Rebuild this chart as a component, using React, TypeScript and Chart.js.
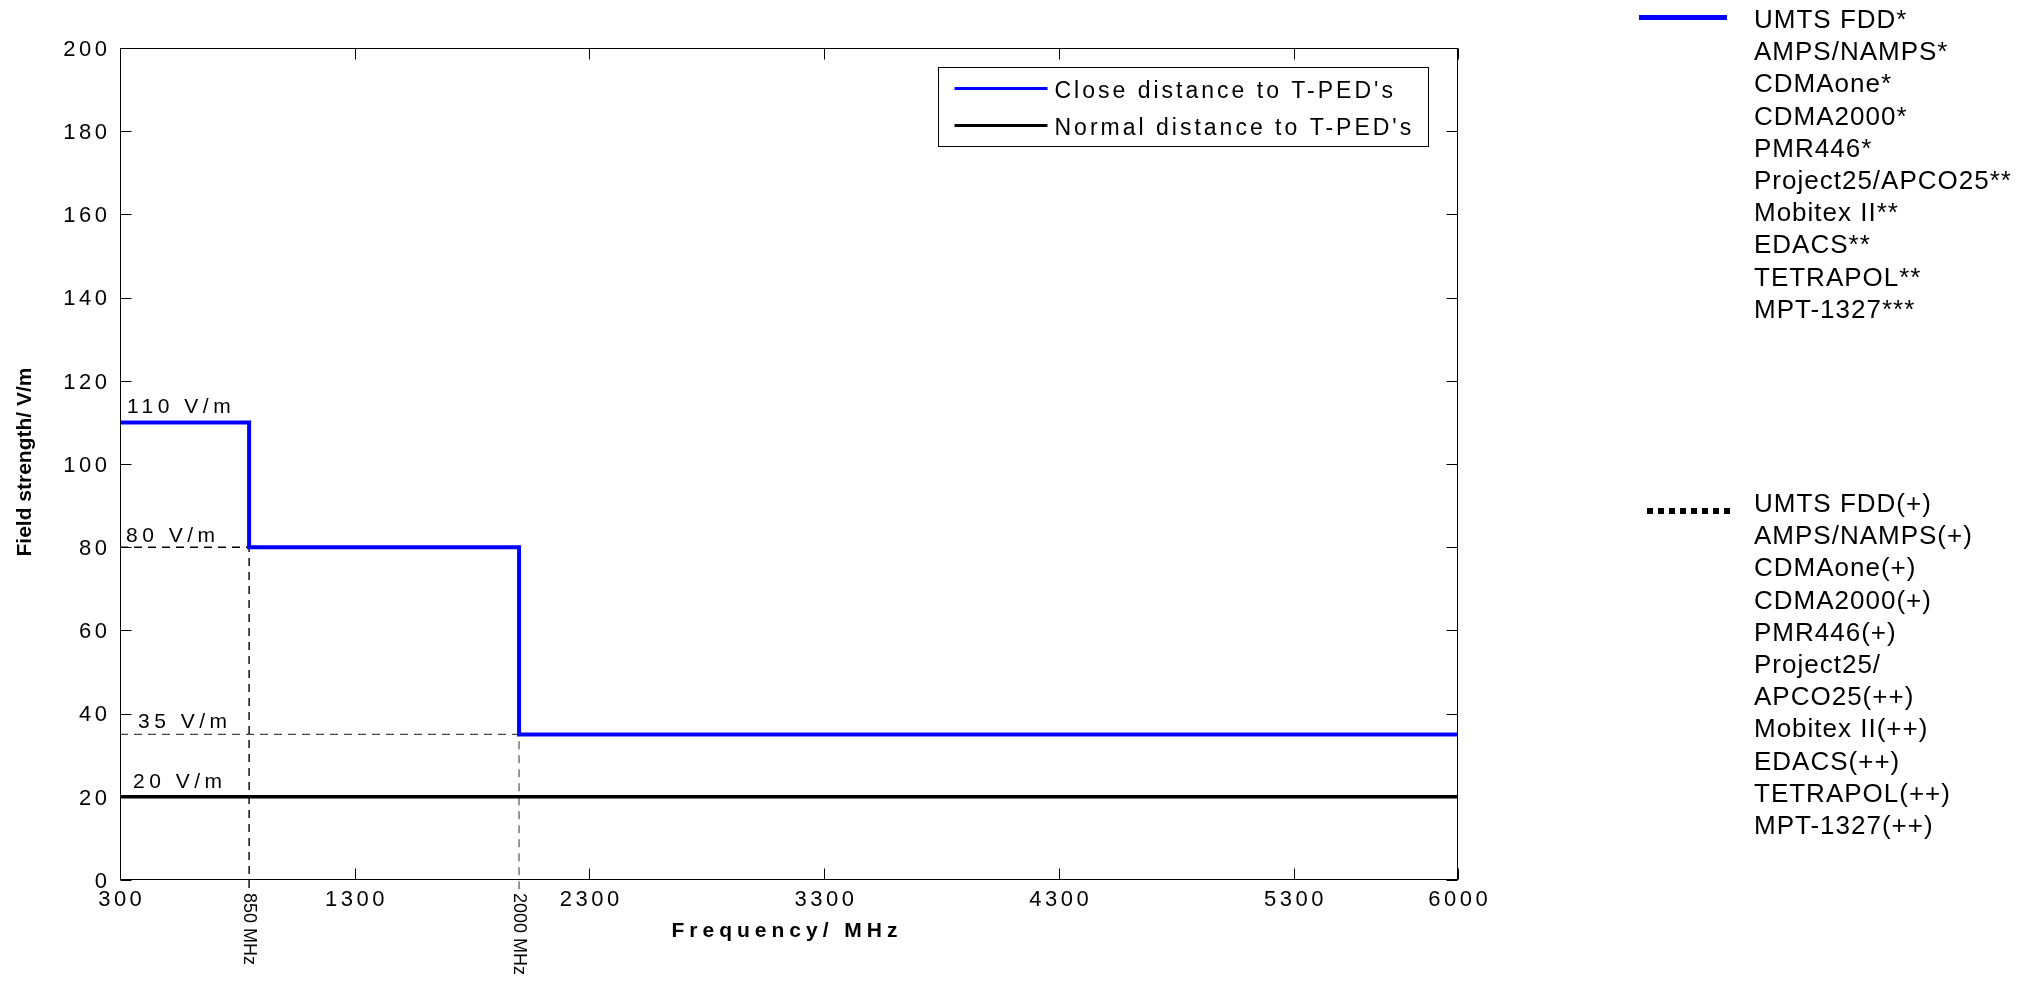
import React, { useEffect, useRef } from 'react';
import { Chart, registerables } from 'chart.js';

Chart.register(...registerables);

// ---------- data ----------
const closeFreq = [300, 850, 2000, 6000];
const closeField = [110, 80, 35, 35];
const normalFreq = [300, 6000];
const normalField = [20, 20];
const seriesLabels = ["Close distance to T-PED's", "Normal distance to T-PED's"];

const xTicks = [300, 1300, 2300, 3300, 4300, 5300, 6000];
const yTicks = [0, 20, 40, 60, 80, 100, 120, 140, 160, 180, 200];

const levelValues = [110, 80, 35, 20];
const levelLabels = ['110 V/m', '80 V/m', '35 V/m', '20 V/m'];

const bandEdges = [850, 2000];
const bandEdgeLevels = [80, 35];
const bandLabels = ['850 MHz', '2000 MHz'];
const guideFloor = -2.5;

const closeSystems = [
  'UMTS FDD*', 'AMPS/NAMPS*', 'CDMAone*', 'CDMA2000*', 'PMR446*',
  'Project25/APCO25**', 'Mobitex II**', 'EDACS**', 'TETRAPOL**', 'MPT-1327***',
];
const normalSystems = [
  'UMTS FDD(+)', 'AMPS/NAMPS(+)', 'CDMAone(+)', 'CDMA2000(+)', 'PMR446(+)',
  'Project25/', 'APCO25(++)', 'Mobitex II(++)', 'EDACS(++)', 'TETRAPOL(++)', 'MPT-1327(++)',
];

const FONT = '"Liberation Sans", Arial, Helvetica, sans-serif';
const BLUE = '#0000ff';

// layout nudges for the level labels (pixels)
const LEVEL_NUDGE = [
  { dx: 7, dy: 9 },
  { dx: 6, dy: 5 },
  { dx: 18, dy: 6 },
  { dx: 13, dy: 9 },
];

const decorPlugin = {
  id: 'decor',
  afterDraw(chart: any) {
    const { ctx, chartArea: a } = chart;
    const xs = chart.scales.x;
    const ys = chart.scales.y;
    ctx.save();
    ctx.strokeStyle = '#000';
    ctx.fillStyle = '#000';
    ctx.lineWidth = 1;
    ctx.setLineDash([]);

    const L = Math.round(a.left) + 0.5;
    const R = Math.round(a.right) - 0.5;
    const T = Math.round(a.top) + 0.5;
    const B = Math.round(a.bottom) - 0.5;
    ctx.strokeRect(L, T, R - L, B - T);

    // inward ticks
    ctx.beginPath();
    xTicks.forEach((v) => {
      const px = Math.round(xs.getPixelForValue(v)) + 0.5;
      ctx.moveTo(px, B);
      ctx.lineTo(px, B - 11);
      ctx.moveTo(px, T);
      ctx.lineTo(px, T + 11);
    });
    yTicks.forEach((v) => {
      const py = Math.round(ys.getPixelForValue(v)) + 0.5;
      ctx.moveTo(L, py);
      ctx.lineTo(L + 11, py);
      ctx.moveTo(R, py);
      ctx.lineTo(R - 11, py);
    });
    ctx.stroke();

    // tick labels
    ctx.font = `22px ${FONT}`;
    (ctx as any).letterSpacing = '3.5px';
    ctx.textBaseline = 'alphabetic';
    ctx.textAlign = 'center';
    xTicks.forEach((v) => {
      const px = xs.getPixelForValue(v);
      ctx.fillText(String(v), px + 1.75, a.bottom + 26);
    });
    ctx.textAlign = 'right';
    yTicks.forEach((v) => {
      const py = ys.getPixelForValue(v);
      ctx.fillText(String(v), a.left - 9.5, py + 7.8);
    });

    // level labels
    ctx.font = `21px ${FONT}`;
    (ctx as any).letterSpacing = '4.5px';
    ctx.textAlign = 'left';
    levelValues.forEach((v, i) => {
      const py = ys.getPixelForValue(v);
      const n = LEVEL_NUDGE[i];
      ctx.fillText(levelLabels[i], a.left + n.dx, py - n.dy);
    });

    // band edge labels (rotated)
    (ctx as any).letterSpacing = '0px';
    ctx.font = `18px ${FONT}`;
    bandEdges.forEach((v, i) => {
      const px = xs.getPixelForValue(v);
      ctx.save();
      ctx.translate(px, a.bottom + 13);
      ctx.rotate(Math.PI / 2);
      ctx.textAlign = 'left';
      ctx.textBaseline = 'middle';
      ctx.fillText(bandLabels[i], 0, 0);
      ctx.restore();
    });

    // axis titles
    ctx.font = `bold 21px ${FONT}`;
    (ctx as any).letterSpacing = '5px';
    ctx.textAlign = 'center';
    ctx.textBaseline = 'alphabetic';
    ctx.fillText('Frequency/ MHz', (a.left + a.right) / 2 - 2, a.bottom + 57);

    (ctx as any).letterSpacing = '0px';
    ctx.font = `bold 21px ${FONT}`;
    ctx.save();
    ctx.translate(31, (a.top + a.bottom) / 2 - 2);
    ctx.rotate(-Math.PI / 2);
    ctx.textAlign = 'center';
    ctx.fillText('Field strength/ V/m', 0, 0);
    ctx.restore();

    // in-plot legend box
    const bx = Math.round(a.right) - 520 + 0.5;
    const by = Math.round(a.top) + 19 + 0.5;
    const bw = 490;
    const bh = 79;
    ctx.fillStyle = '#fff';
    ctx.fillRect(bx, by, bw, bh);
    ctx.strokeStyle = '#000';
    ctx.lineWidth = 1;
    ctx.strokeRect(bx, by, bw, bh);
    ctx.font = `23px ${FONT}`;
    (ctx as any).letterSpacing = '3px';
    ctx.textAlign = 'left';
    ctx.textBaseline = 'alphabetic';
    seriesLabels.forEach((lab, i) => {
      const ds = chart.data.datasets[i];
      const rowY = by + 21 + i * 37;
      ctx.strokeStyle = ds.borderColor;
      ctx.lineWidth = 3;
      ctx.beginPath();
      ctx.moveTo(bx + 16, rowY);
      ctx.lineTo(bx + 109, rowY);
      ctx.stroke();
      ctx.fillStyle = '#000';
      ctx.fillText(lab, bx + 116, rowY + 9);
    });

    // outside legend (systems)
    (ctx as any).letterSpacing = '1px';
    ctx.font = `26px ${FONT}`;
    ctx.fillStyle = '#000';
    ctx.strokeStyle = BLUE;
    ctx.lineWidth = 5;
    ctx.beginPath();
    ctx.moveTo(1639, 17.5);
    ctx.lineTo(1727, 17.5);
    ctx.stroke();
    closeSystems.forEach((s, i) => {
      ctx.fillText(s, 1754, 28 + i * 32.2);
    });

    ctx.strokeStyle = '#000';
    ctx.lineWidth = 6;
    ctx.setLineDash([6, 5]);
    ctx.beginPath();
    ctx.moveTo(1647, 511);
    ctx.lineTo(1735, 511);
    ctx.stroke();
    ctx.setLineDash([]);
    normalSystems.forEach((s, i) => {
      ctx.fillText(s, 1754, 512 + i * 32.2);
    });

    ctx.restore();
  },
};

export default function App() {
  const ref = useRef<HTMLCanvasElement | null>(null);

  useEffect(() => {
    if (!ref.current) return;
    const guideColors = ['#000000', '#444444'];
    const guideWidths = [1.4, 1.1];
    const guides = bandEdges.map((edge, i) => ({
      label: 'guide' + i,
      data: [
        { x: xTicks[0], y: bandEdgeLevels[i] },
        { x: edge, y: bandEdgeLevels[i] },
        { x: edge, y: guideFloor },
      ],
      borderColor: guideColors[i],
      borderWidth: guideWidths[i],
      borderDash: [8, 6],
      pointRadius: 0,
      fill: false,
      clip: false as any,
      tension: 0,
    }));

    const chart = new Chart(ref.current, {
      type: 'line',
      data: {
        datasets: [
          {
            label: seriesLabels[0],
            data: closeFreq.map((f, i) => ({ x: f, y: closeField[i] })),
            borderColor: BLUE,
            borderWidth: 4,
            pointRadius: 0,
            stepped: 'before',
            fill: false,
          },
          {
            label: seriesLabels[1],
            data: normalFreq.map((f, i) => ({ x: f, y: normalField[i] })),
            borderColor: '#000000',
            borderWidth: 3.5,
            pointRadius: 0,
            fill: false,
          },
          ...guides,
        ] as any,
      },
      options: {
        responsive: false,
        animation: false,
        devicePixelRatio: 1,
        layout: { padding: { top: 48, right: 571, left: 0, bottom: 0 } },
        plugins: {
          legend: { display: false },
          tooltip: { enabled: false },
        },
        scales: {
          x: {
            type: 'linear',
            min: 300,
            max: 6000,
            grid: { display: false },
            border: { display: false },
            ticks: { display: false },
            afterBuildTicks: (s: any) => {
              s.ticks = xTicks.map((v) => ({ value: v }));
            },
            afterFit: (s: any) => {
              s.height = 103;
            },
          },
          y: {
            type: 'linear',
            min: 0,
            max: 200,
            grid: { display: false },
            border: { display: false },
            ticks: { display: false },
            afterBuildTicks: (s: any) => {
              s.ticks = yTicks.map((v) => ({ value: v }));
            },
            afterFit: (s: any) => {
              s.width = 120;
            },
          },
        },
      } as any,
      plugins: [decorPlugin],
    });
    return () => chart.destroy();
  }, []);

  return (
    <div style={{ position: 'absolute', left: 0, top: 0, width: 2029, height: 983, background: '#fff' }}>
      <canvas ref={ref} width={2029} height={983} style={{ display: 'block' }} />
    </div>
  );
}
